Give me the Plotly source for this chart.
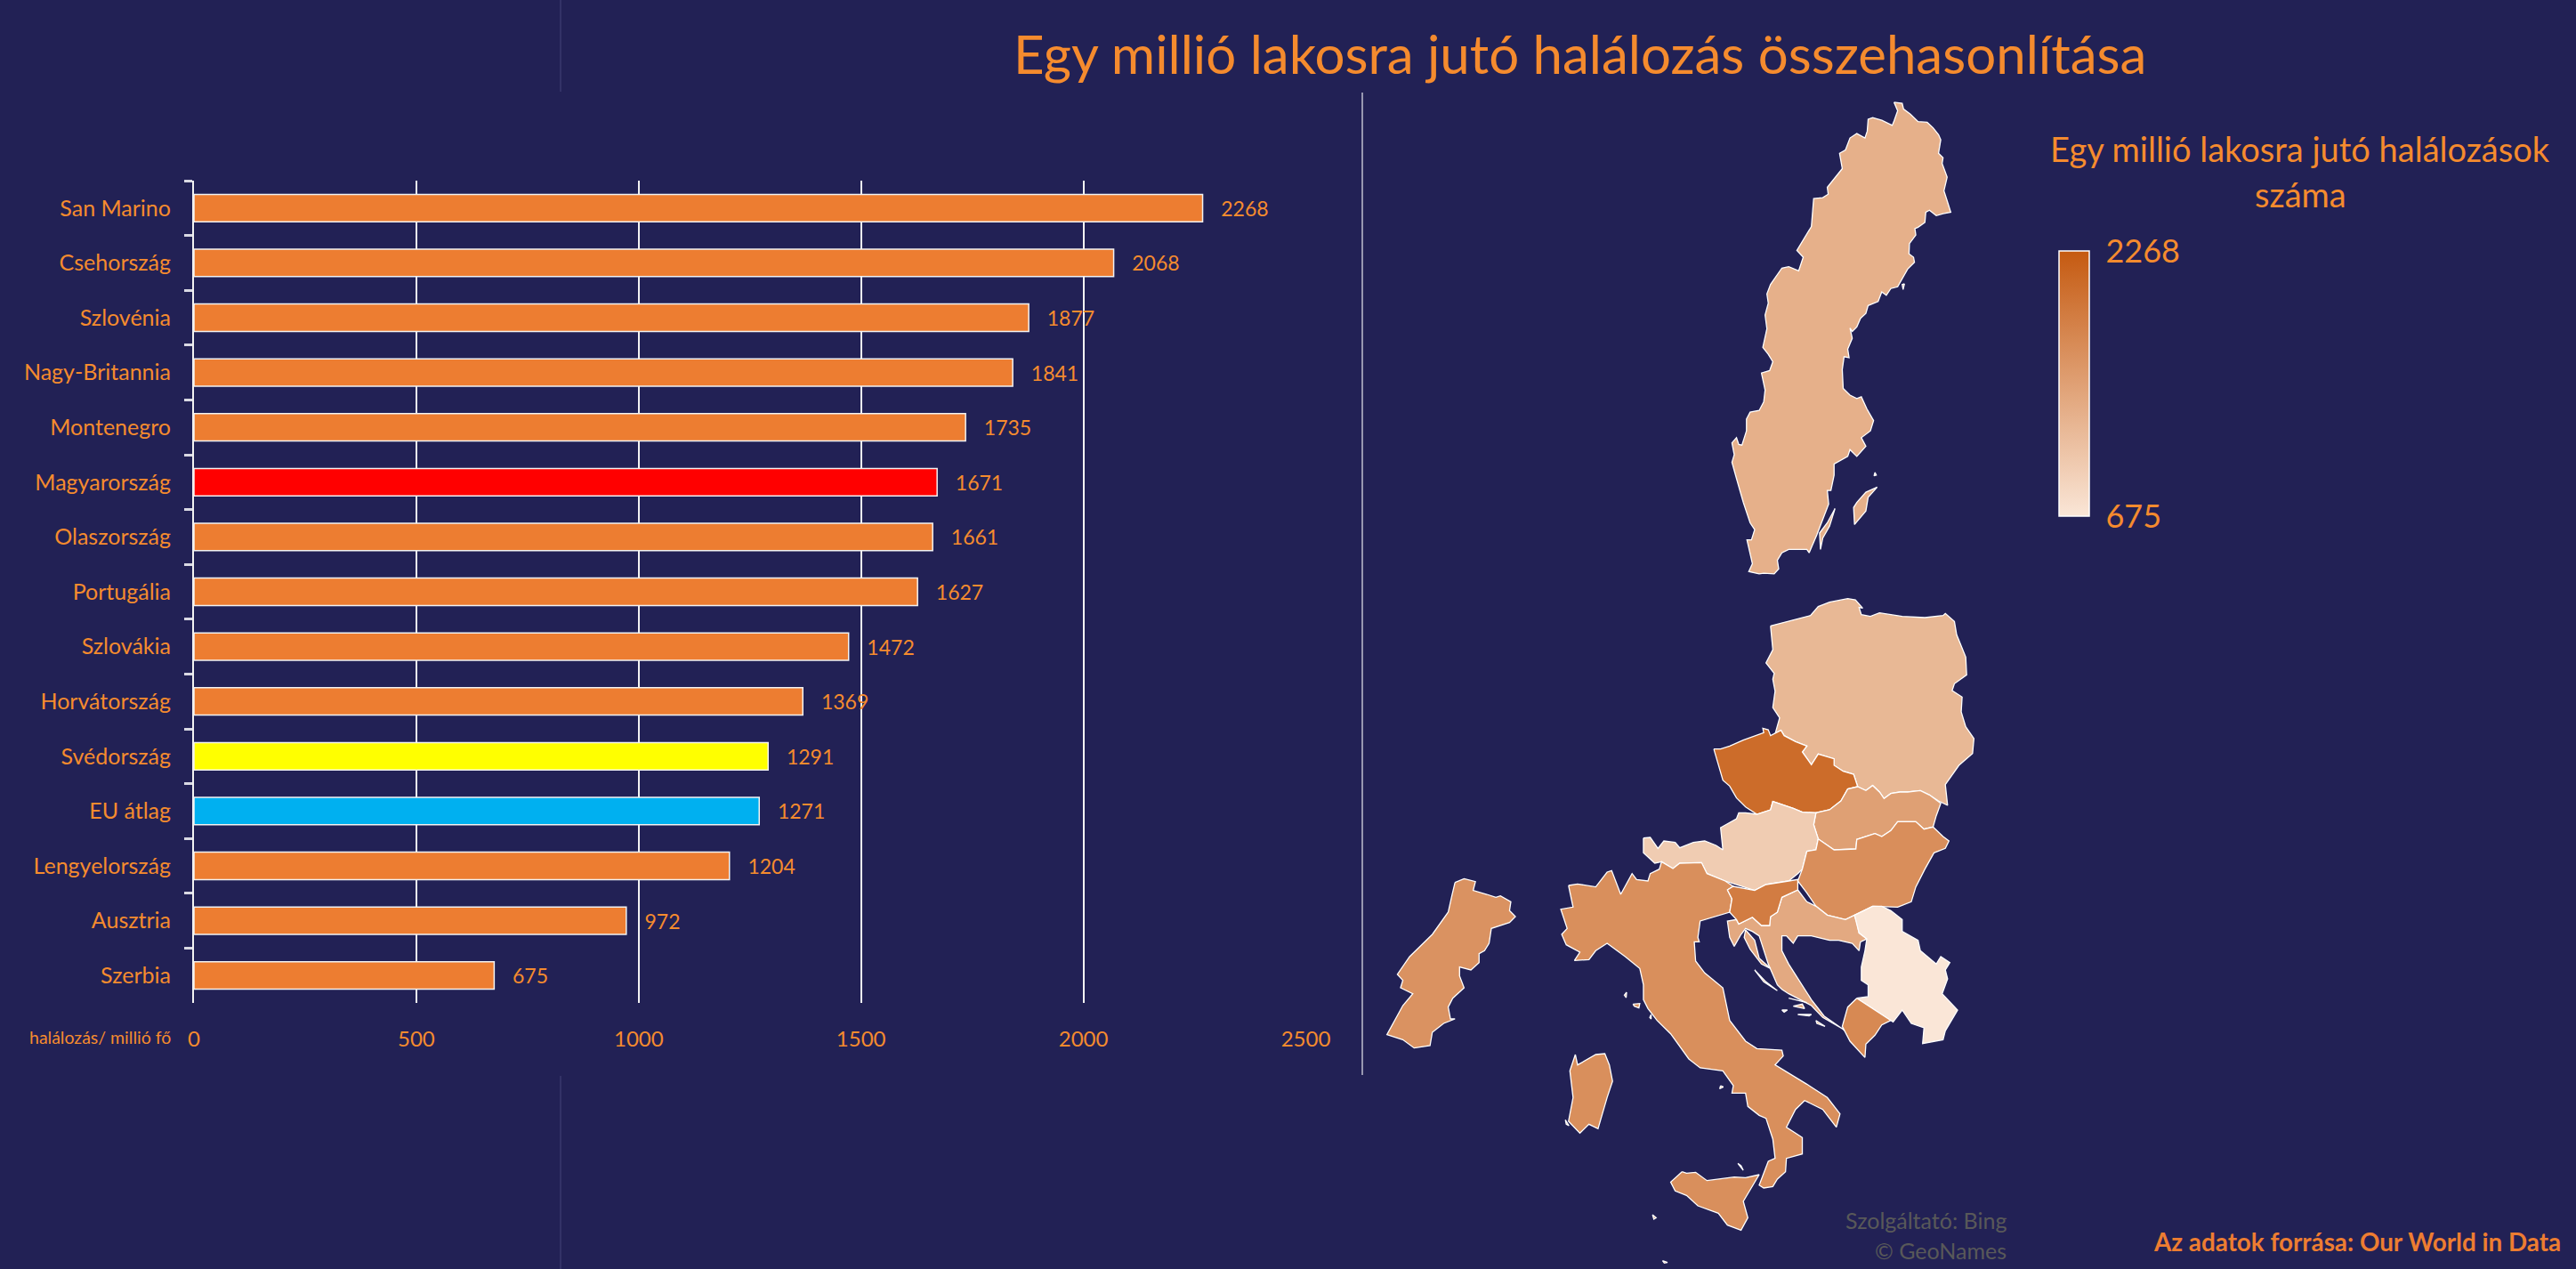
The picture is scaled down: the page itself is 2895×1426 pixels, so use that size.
import plotly.graph_objects as go

W, H = 2895, 1426
BG = "#222155"
ORANGE = "#F58B2E"
FONT = "Lato, sans-serif"

# ---- bar chart data ----
countries = ["San Marino", "Csehország", "Szlovénia", "Nagy-Britannia", "Montenegro",
             "Magyarország", "Olaszország", "Portugália", "Szlovákia", "Horvátország",
             "Svédország", "EU átlag", "Lengyelország", "Ausztria", "Szerbia"]
deaths = [2268, 2068, 1877, 1841, 1735, 1671, 1661, 1627, 1472, 1369, 1291, 1271, 1204, 972, 675]
bar_colors = ["#ED7D31"] * 5 + ["#FF0000"] + ["#ED7D31"] * 4 + ["#FFFF00", "#00B0F0"] + ["#ED7D31"] * 3
x_ticks = [0, 500, 1000, 1500, 2000, 2500]

# ---- map outlines ----
sweden = [
 [(1232,65),(1250,68),(1253,85),(1268,100),(1285,122),(1305,124),(1318,140),(1330,160),(1335,175),(1330,215),(1340,228),(1338,245),(1349,285),(1342,325),(1348,350),(1357,388),(1340,392),(1325,398),(1310,382),(1302,388),(1300,418),(1285,432),(1278,436),(1280,455),(1266,480),(1265,510),(1275,520),(1277,535),(1262,555),(1250,585),(1240,607),(1225,612),(1215,632),(1205,622),(1197,650),(1175,662),(1170,685),(1158,700),(1150,725),(1140,738),(1135,728),(1140,758),(1130,790),(1133,815),(1122,812),(1118,850),(1120,905),(1135,925),(1150,935),(1160,930),(1172,965),(1187,1000),(1180,1030),(1160,1050),(1170,1075),(1150,1105),(1135,1085),(1130,1105),(1100,1127),(1100,1160),(1093,1205),(1085,1205),(1088,1245),(1075,1290),(1062,1335),(1045,1388),(1040,1378),(1000,1378),(985,1388),(975,1410),(978,1435),(968,1450),(945,1448),(935,1450),(912,1443),(920,1420),(908,1350),(918,1350),(925,1320),(915,1300),(900,1240),(885,1170),(875,1122),(880,1100),(875,1065),(885,1050),(890,1070),(897,1072),(907,1030),(907,995),(915,975),(935,970),(945,945),(948,910),(940,860),(958,853),(965,827),(955,805),(943,785),(952,730),(948,690),(955,655),(952,628),(960,600),(985,552),(1000,548),(1022,560),(1032,520),(1018,500),(1050,430),(1055,348),(1075,345),(1087,335),(1085,315),(1118,260),(1112,215),(1125,205),(1135,170),(1150,157),(1168,170),(1173,150),(1175,115),(1185,110),(1205,118),(1228,133),(1232,120),(1240,90)],
 [(1102,1258),(1090,1310),(1075,1345),(1070,1378),(1068,1330),(1085,1300)],
 [(1195,1195),(1170,1210),(1150,1240),(1143,1255),(1145,1305),(1170,1265),(1175,1225)],
 [(1190,1152),(1193,1160),(1188,1162)],
 [(1255,598),(1252,615),(1250,600)],
]
poland = [[(960,130),(1010,110),(1048,95),(1065,65),(1090,50),(1130,38),(1147,42),(1163,70),(1155,68),(1160,92),(1180,98),(1200,86),(1250,98),(1300,102),(1340,95),(1345,88),(1365,115),(1370,160),(1390,235),(1392,295),(1365,325),(1360,348),(1382,370),(1380,420),(1390,470),(1408,510),(1405,560),(1375,600),(1345,665),(1350,735),(1330,720),(1310,700),(1290,685),(1262,690),(1245,690),(1225,695),(1210,712),(1200,690),(1185,668),(1170,685),(1152,672),(1143,630),(1120,620),(1100,600),(1100,578),(1065,562),(1050,598),(1030,555),(1040,535),(1015,520),(990,500),(983,482),(970,495),(980,440),(965,405),(970,350),(965,310),(968,290),(950,255),(965,210)]]
czechia = [[(835,545),(850,545),(870,535),(900,515),(945,490),(943,475),(955,480),(960,500),(983,482),(990,500),(1015,520),(1040,535),(1030,555),(1050,598),(1065,562),(1100,578),(1100,600),(1120,620),(1143,630),(1152,672),(1130,680),(1115,720),(1090,750),(1060,760),(1030,758),(1010,745),(965,722),(960,750),(930,765),(905,740),(885,710),(870,670),(855,650),(845,600)]]
slovakia = [[(1152,672),(1170,685),(1185,668),(1200,690),(1210,712),(1225,695),(1245,690),(1262,690),(1290,685),(1310,700),(1335,728),(1325,770),(1318,808),(1298,815),(1280,790),(1240,790),(1225,820),(1205,840),(1190,830),(1150,850),(1148,882),(1100,885),(1065,848),(1055,800),(1060,760),(1090,750),(1115,720),(1130,680)]]
hungary = [[(1065,848),(1100,885),(1148,882),(1150,850),(1190,830),(1205,840),(1225,820),(1240,790),(1280,790),(1298,815),(1318,808),(1340,840),(1353,855),(1345,880),(1320,895),(1300,950),(1280,1010),(1270,1060),(1240,1078),(1205,1075),(1185,1075),(1145,1105),(1125,1120),(1085,1105),(1060,1075),(1040,1030),(1020,990),(1030,950),(1040,890),(1060,885)]]
austria = [[(680,845),(695,843),(712,880),(725,855),(750,860),(760,878),(790,860),(815,855),(840,870),(855,885),(850,810),(885,780),(890,760),(905,760),(930,765),(960,750),(965,722),(1010,745),(1030,758),(1060,760),(1055,800),(1065,848),(1060,885),(1040,890),(1030,950),(1020,965),(1000,990),(950,1002),(925,1022),(860,990),(820,965),(808,928),(760,930),(745,948),(720,925),(705,930),(680,895)]]
italy = [
 [(515,1005),(535,1000),(575,1010),(600,960),(610,955),(630,1035),(655,965),(665,985),(690,990),(695,965),(715,950),(720,925),(745,948),(760,930),(808,928),(820,965),(860,990),(878,1008),(865,1020),(875,1050),(870,1095),(835,1110),(805,1125),(800,1180),(803,1195),(792,1195),(795,1260),(815,1300),(855,1350),(870,1460),(905,1530),(930,1555),(985,1560),(988,1580),(970,1610),(1040,1675),(1085,1720),(1113,1775),(1105,1820),(1085,1780),(1075,1760),(1035,1730),(1015,1760),(995,1820),(1030,1855),(1030,1910),(995,1925),(993,1970),(975,1995),(965,2020),(945,2025),(935,2015),(955,1935),(970,1925),(965,1860),(950,1790),(935,1780),(910,1750),(905,1705),(875,1705),(878,1680),(855,1630),(805,1620),(780,1590),(740,1505),(710,1460),(690,1420),(680,1390),(680,1340),(672,1285),(640,1245),(600,1200),(575,1225),(560,1255),(528,1258),(540,1230),(510,1205),(500,1170),(512,1150),(498,1085),(525,1078)],
 [(765,1970),(775,1975),(795,1972),(820,2000),(880,1988),(905,1990),(935,1980),(915,2030),(900,2070),(910,2125),(895,2167),(865,2150),(845,2110),(800,2085),(775,2050),(750,2035),(740,2005)],
 [(530,1575),(535,1610),(575,1575),(595,1572),(605,1610),(612,1665),(600,1720),(580,1825),(560,1810),(540,1840),(515,1800),(525,1720),(518,1630)],
 [(643,1365),(642,1383),(638,1375)],
 [(657,1405),(672,1403),(670,1418),(660,1412)],
 [(697,1440),(697,1455),(694,1450)],
 [(850,1680),(856,1684),(848,1690)],
 [(888,1942),(900,1965),(895,1950)],
 [(700,2115),(708,2125),(703,2130)],
 [(722,2270),(733,2276),(726,2278)],
 [(508,1795),(516,1815),(510,1810)],
]
portugal = [[(265,995),(285,982),(310,992),(305,1022),(335,1035),(355,1045),(365,1040),(388,1060),(385,1090),(398,1110),(385,1130),(345,1150),(340,1200),(330,1225),(318,1235),(318,1265),(300,1290),(275,1280),(275,1310),(285,1350),(260,1385),(250,1415),(255,1455),(265,1455),(240,1470),(215,1500),(210,1545),(175,1553),(150,1525),(115,1508),(150,1410),(172,1370),(145,1350),(150,1325),(138,1305),(165,1245),(215,1170),(250,1095),(258,1040)]]
montenegro = [[(1150,1385),(1225,1460),(1205,1475),(1190,1510),(1170,1540),(1168,1585),(1135,1530),(1118,1480),(1130,1415)]]
serbia = [[(1145,1105),(1185,1075),(1205,1075),(1225,1090),(1250,1120),(1250,1160),(1285,1190),(1290,1225),(1325,1270),(1335,1245),(1355,1265),(1345,1290),(1350,1320),(1338,1370),(1372,1425),(1345,1495),(1340,1525),(1295,1538),(1298,1485),(1270,1470),(1250,1425),(1230,1465),(1225,1460),(1150,1385),(1175,1380),(1175,1340),(1160,1325),(1160,1280),(1168,1225),(1172,1185),(1155,1165),(1150,1130)]]
slovenia = [[(865,1020),(878,1008),(925,1022),(950,1002),(1000,990),(1020,985),(1020,1020),(985,1045),(975,1095),(960,1110),(958,1140),(940,1140),(920,1112),(890,1135),(885,1120),(870,1095),(875,1050)]]
croatia = [
 [(1020,1020),(1040,1060),(1060,1075),(1085,1105),(1125,1120),(1145,1105),(1150,1130),(1155,1165),(1172,1185),(1158,1195),(1155,1225),(1140,1200),(1110,1190),(1090,1190),(1050,1175),(1020,1175),(1010,1200),(995,1175),(985,1175),(985,1225),(1000,1270),(1025,1330),(1050,1390),(1078,1445),(1120,1490),(1135,1510),(1130,1498),(1075,1450),(1050,1410),(1000,1370),(985,1355),(975,1340),(955,1270),(935,1175),(920,1160),(905,1150),(895,1170),(880,1210),(870,1180),(865,1125),(885,1120),(890,1135),(920,1112),(940,1140),(958,1140),(960,1110),(975,1095),(985,1045)],
 [(905,1155),(925,1190),(935,1250),(960,1285),(940,1270),(915,1220),(902,1180)],
 [(925,1290),(950,1330),(975,1360),(945,1330)],
 [(1000,1385),(1040,1400),(1030,1395)],
 [(1010,1412),(1030,1405),(1035,1420)],
 [(1020,1440),(1050,1440),(1045,1445)],
 [(1060,1460),(1080,1480),(1062,1470)],
 [(985,1425),(997,1425),(990,1432)],
]
# country -> (outlines, chart value, vertical stretch of the read-off grid, vertical offset)
map_countries = [
    ("Svédország", sweden, 1291, 1 / 2.613, 90),
    ("Lengyelország", poland, 1204, 1 / 3, 660),
    ("Csehország", czechia, 2068, 1 / 3, 660),
    ("Szlovákia", slovakia, 1472, 1 / 3, 660),
    ("Ausztria", austria, 972, 1 / 3, 660),
    ("Magyarország", hungary, 1671, 1 / 3, 660),
    ("Olaszország", italy, 1661, 1 / 3, 660),
    ("Portugália", portugal, 1627, 1 / 3, 660),
    ("Horvátország", croatia, 1369, 1 / 3, 660),
    ("Szerbia", serbia, 675, 1 / 3, 660),
    ("Montenegro", montenegro, 1735, 1 / 3, 660),
    ("Szlovénia", slovenia, 1877, 1 / 3, 660),
]
scale_min, scale_max = 675, 2268
low_rgb, high_rgb = (250, 230, 215), (197, 90, 17)


def shade(v):
    t = (v - scale_min) / (scale_max - scale_min)
    c = [round(a + (b - a) * t) for a, b in zip(low_rgb, high_rgb)]
    return f"rgb({c[0]},{c[1]},{c[2]})"


fig = go.Figure()

fig.add_trace(go.Bar(
    y=countries, x=deaths, orientation="h",
    marker=dict(color=bar_colors, line=dict(color="#F2F2F2", width=1.5)),
    text=["\u00a0\u00a0\u00a0" + str(v) for v in deaths], textposition="outside", constraintext="none",
    cliponaxis=False, textfont=dict(family=FONT, size=23, color=ORANGE),
    xaxis="x", yaxis="y", showlegend=False,
))

for name, polys, value, sy, oy in map_countries:
    xs, ys = [], []
    for poly in polys:
        xs += [1500 + p[0] / 1.96 for p in poly] + [1500 + poly[0][0] / 1.96, None]
        ys += [oy + p[1] * sy for p in poly] + [oy + poly[0][1] * sy, None]
    fig.add_trace(go.Scatter(
        x=xs, y=ys, mode="lines", fill="toself", fillcolor=shade(value), name=name,
        line=dict(color="#FFFFFF", width=1.3), xaxis="x2", yaxis="y2", showlegend=False,
    ))

# colour scale key
fig.add_trace(go.Scatter(
    x=[-50, -50], y=[-50, -50], mode="markers", xaxis="x2", yaxis="y2", showlegend=False,
    marker=dict(
        color=[scale_min, scale_max], cmin=scale_min, cmax=scale_max,
        colorscale=[[0, "rgb(250,230,215)"], [1, "rgb(197,90,17)"]], showscale=True,
        colorbar=dict(
            x=2314 / W, xanchor="left", xpad=0, y=1 - 431 / H, yanchor="middle", ypad=0,
            lenmode="pixels", len=298, thicknessmode="pixels", thickness=34,
            outlinecolor="#FFFFFF", outlinewidth=1.5, bgcolor="rgba(0,0,0,0)",
            tickmode="array", tickvals=[scale_min, scale_max], ticktext=["675", "2268"],
            ticks="outside", ticklen=11, tickcolor="rgba(0,0,0,0)",
            tickfont=dict(family=FONT, size=36, color=ORANGE),
        ),
    ),
))


def note(text, x, y, size, anchor="center", color=ORANGE):
    return dict(text=text, x=x / W, y=1 - y / H, xref="paper", yref="paper", showarrow=False,
                xanchor=anchor, yanchor="middle", font=dict(family=FONT, size=size, color=color))


annotations = [
    note("Egy millió lakosra jutó halálozás összehasonlítása", 1775, 60, 60),
    note("Egy millió lakosra jutó halálozások", 2585, 167, 38),
    note("száma", 2585, 218, 38),
    note("halálozás/ millió fő", 194, 1165, 19.5, "right"),
    note("Szolgáltató: Bing", 2257, 1371, 25, "right", color="#595959"),
    note("© GeoNames", 2257, 1405, 25, "right", color="#595959"),
    note("<b>Az adatok forrása: Our World in Data</b>", 2880, 1395, 27.8, "right", color="#ED7D31"),
]


def vline(x, y0, y1, color, width=1):
    return dict(type="line", xref="paper", yref="paper", x0=x / W, x1=x / W,
                y0=1 - y0 / H, y1=1 - y1 / H, line=dict(color=color, width=width))


shapes = [
    vline(1531, 104, 1208, "#E8E8EE", 1.2),
    vline(630, 0, 103, "#45447A"),
    vline(630, 1209, 1426, "#45447A"),
]

fig.update_layout(
    width=W, height=H, margin=dict(l=0, r=0, t=0, b=0, autoexpand=False), autosize=False,
    paper_bgcolor=BG, plot_bgcolor="rgba(0,0,0,0)", bargap=0.5,
    annotations=annotations, shapes=shapes, showlegend=False,
    xaxis=dict(domain=[218 / W, 1467.5 / W], range=[0, 2500], tickvals=x_ticks,
               showgrid=True, gridcolor="#F2F2F2", gridwidth=2, zeroline=False, showline=False,
               ticks="", ticklabelstandoff=24, anchor="y",
               tickfont=dict(family=FONT, size=24, color=ORANGE)),
    yaxis=dict(domain=[1 - 1127 / H, 1 - 203 / H], type="category", categoryorder="array",
               categoryarray=countries, autorange="reversed", showline=True, linecolor="#F2F2F2",
               linewidth=2, ticks="outside", tickson="boundaries", ticklen=9, tickwidth=3,
               tickcolor="#D9D9E3", showgrid=False, ticklabelstandoff=19, anchor="x",
               tickfont=dict(family=FONT, size=25, color=ORANGE)),
    xaxis2=dict(domain=[0, 1], range=[0, W], visible=False, anchor="y2", fixedrange=True),
    yaxis2=dict(domain=[0, 1], range=[H, 0], visible=False, anchor="x2", fixedrange=True),
)

fig.write_html("out.html", config={"displayModeBar": False},
               post_script="document.body.style.margin='0';document.body.style.overflow='hidden';document.body.style.background='%s';" % BG)
